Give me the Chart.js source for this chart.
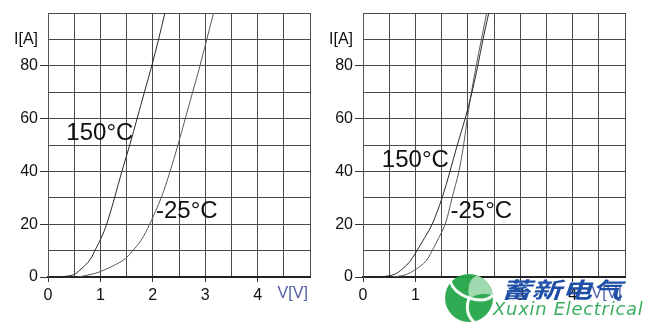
<!DOCTYPE html>
<html>
<head>
<meta charset="utf-8">
<script src="https://cdn.jsdelivr.net/npm/chart.js@4"></script>
<style>
	body { margin: 0; background: #fff; width: 646px; height: 323px; overflow: hidden; position: relative; }
	.box { position: absolute; top: 0; width: 323px; height: 323px; }
	#logo { position: absolute; left: 444px; top: 273px; }
	.cn { position: absolute; left: 501px; top: 275px; font: italic bold 22px "Noto Sans CJK SC"; color: #1f4fa6; transform-origin: left top; transform: scaleX(1.38); line-height: 26px; white-space: nowrap; }
	.en { position: absolute; left: 493px; top: 299px; font: oblique 300 18px "DejaVu Sans"; color: #3aae5e; letter-spacing: 0.7px; line-height: 20px; white-space: nowrap; }
</style>
</head>
<body>
<div class="box" style="left:0"><canvas id="leftChart" width="323" height="323"></canvas></div>
<div class="box" style="left:323px"><canvas id="rightChart" width="323" height="323"></canvas></div>
<canvas id="logo" width="50" height="50"></canvas>
<div class="cn">蓄新电气</div>
<div class="en">Xuxin Electrical</div>
<script>
// left graph
const leftHotV = [0.19, 0.48, 0.63, 0.80, 0.92, 1.02, 1.12, 1.27, 1.41, 1.56, 1.70, 1.84, 1.98, 2.11, 2.23];
const leftHotI = [0, 0.8, 3, 6.5, 11, 15, 20, 30, 40, 50, 60, 70, 80, 90, 100];
const leftColdV = [0.57, 0.89, 1.11, 1.30, 1.48, 1.62, 1.78, 1.94, 2.16, 2.33, 2.48, 2.62, 2.76, 2.90, 3.03, 3.16];
const leftColdI = [0, 1.3, 3, 4.8, 7, 10, 14, 20, 30, 40, 50, 60, 70, 80, 90, 100];

// right graph
const rightHotV = [0.35, 0.60, 0.75, 0.90, 1.03, 1.18, 1.32, 1.51, 1.66, 1.80, 1.95, 2.08, 2.19, 2.29, 2.40];
const rightHotI = [0, 1, 3, 6, 10, 15, 20, 30, 40, 50, 60, 70, 80, 90, 100];
const rightColdV = [0.56, 0.80, 1.00, 1.20, 1.32, 1.45, 1.57, 1.70, 1.83, 1.92, 1.99, 2.07, 2.16, 2.26, 2.36];
const rightColdI = [0, 0.8, 2.8, 6, 10, 15, 20, 30, 40, 50, 60, 70, 80, 90, 100];

const curveNames = ["150°C", "-25°C"];
const xTicks = [0, 1, 2, 3, 4];
const yTicks = [0, 20, 40, 60, 80];
const xTitle = "V[V]";
const yTitle = "I[A]";

const font = "Liberation Sans, Arial, sans-serif";

const toPoints = (xs, ys) => xs.map((v, i) => ({ x: v, y: ys[i] }));

const textLabels = {
	id: "textLabels",
	afterDraw(chart, args, opts) {
		const ctx = chart.ctx;
		const x = chart.scales.x;
		const y = chart.scales.y;
		ctx.save();
		for (const t of opts.items) {
			ctx.font = t.size + "px " + font;
			ctx.fillStyle = t.color;
			ctx.textAlign = t.align;
			ctx.textBaseline = "middle";
			ctx.fillText(t.text, x.getPixelForValue(t.v), y.getPixelForValue(t.i));
		}
		ctx.restore();
	}
};

const buildChart = (id, hot, cold, axisWidth, padRight, items) => {
	const ctx = document.getElementById(id).getContext("2d");
	return new Chart(ctx, {
		type: "scatter",
		data: {
			datasets: [{
				data: hot,
				showLine: true,
				borderColor: "#2b2b2b",
				borderWidth: 1,
				pointRadius: 0,
				tension: 0.35
			}, {
				data: cold,
				showLine: true,
				borderColor: "#5a5a5a",
				borderWidth: 1,
				pointRadius: 0,
				tension: 0.35
			}]
		},
		options: {
			responsive: false,
			animation: false,
			layout: { padding: { top: 13, right: padRight, left: 0, bottom: 0 } },
			plugins: {
				legend: { display: false },
				tooltip: { enabled: false },
				textLabels: { items: items }
			},
			scales: {
				x: {
					type: "linear",
					min: 0,
					max: 5,
					afterFit: (s) => { s.height = 46; },
					ticks: {
						stepSize: 0.5,
						autoSkip: false,
						maxRotation: 0,
						padding: 4,
						color: "#111",
						font: { size: 16, family: font },
						callback: (v) => xTicks.includes(v) ? v : ""
					},
					grid: {
						color: "#4a4a4a",
						lineWidth: 1,
						tickLength: 5,
						tickColor: (c) => xTicks.includes(c.tick.value) ? "#333" : "rgba(0,0,0,0)"
					},
					border: { color: "#222", width: 2 }
				},
				y: {
					min: 0,
					max: 100,
					afterFit: (s) => { s.width = axisWidth; },
					ticks: {
						stepSize: 10,
						autoSkip: false,
						padding: 2,
						color: "#111",
						font: { size: 16, family: font },
						callback: (v) => v === 90 ? yTitle : (yTicks.includes(v) ? v : "")
					},
					grid: {
						color: "#4a4a4a",
						lineWidth: 1,
						tickLength: 8,
						tickColor: (c) => yTicks.includes(c.tick.value) ? "#333" : "rgba(0,0,0,0)"
					},
					border: { color: "#555", width: 1 }
				}
			}
		},
		plugins: [textLabels]
	});
};

buildChart("leftChart", toPoints(leftHotV, leftHotI), toPoints(leftColdV, leftColdI), 48, 13, [
	{ text: curveNames[0], v: 0.35, i: 54.5, size: 24, color: "#111", align: "left" },
	{ text: curveNames[1], v: 2.06, i: 25, size: 24, color: "#111", align: "left" },
	{ text: xTitle, v: 4.67, i: -6.2, size: 16, color: "#5060a8", align: "center" }
]);

buildChart("rightChart", toPoints(rightHotV, rightHotI), toPoints(rightColdV, rightColdI), 40, 21, [
	{ text: curveNames[0], v: 0.36, i: 44.3, size: 24, color: "#111", align: "left" },
	{ text: curveNames[1], v: 1.67, i: 25, size: 24, color: "#111", align: "left" },
	{ text: xTitle, v: 4.65, i: -6.2, size: 16, color: "#5060a8", align: "center" }
]);

// watermark logo
const lg = document.getElementById("logo").getContext("2d");
lg.globalAlpha = 0.95;
lg.fillStyle = "#25a64a";
lg.beginPath();
lg.arc(25, 25, 24, 0, Math.PI * 2);
lg.fill();
lg.fillStyle = "#a6dcb6";
lg.beginPath();
lg.moveTo(25, 25);
lg.quadraticCurveTo(22, 6, 34, 2);
lg.arc(25, 25, 24, -1.2, -0.1);
lg.quadraticCurveTo(40, 18, 25, 25);
lg.fill();
lg.strokeStyle = "#fff";
lg.lineWidth = 3;
lg.beginPath();
lg.moveTo(25, 25);
lg.quadraticCurveTo(10, 20, 6, 8);
lg.moveTo(25, 25);
lg.quadraticCurveTo(20, 40, 30, 49);
lg.moveTo(25, 25);
lg.quadraticCurveTo(42, 30, 49, 22);
lg.stroke();
</script>
</body>
</html>
